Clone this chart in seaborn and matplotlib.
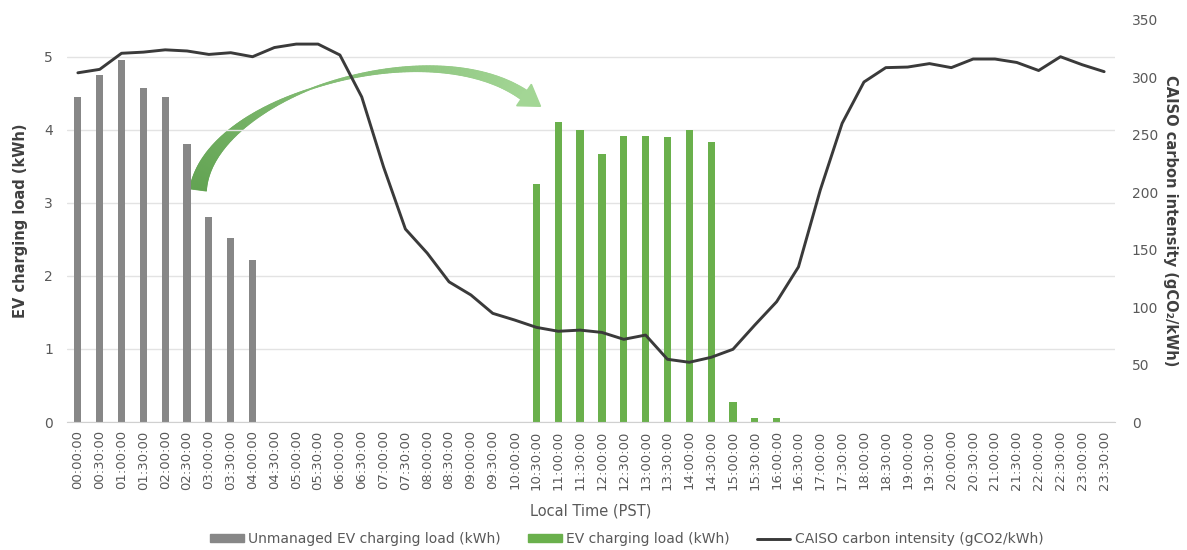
import matplotlib
matplotlib.use("Agg")
import matplotlib.pyplot as plt
import numpy as np
import pandas as pd
import seaborn as sns
from matplotlib.collections import PolyCollection
from matplotlib.patches import Patch, Polygon
from matplotlib.lines import Line2D
from matplotlib.colors import to_rgb

# --- data ---
times = [f"{h:02d}:{m:02d}:00" for h in range(24) for m in (0, 30)]

unmanaged_times = ["00:00:00", "00:30:00", "01:00:00", "01:30:00", "02:00:00",
                   "02:30:00", "03:00:00", "03:30:00", "04:00:00"]
unmanaged_load = [4.44, 4.75, 4.95, 4.57, 4.44, 3.80, 2.80, 2.52, 2.22]

managed_times = ["10:30:00", "11:00:00", "11:30:00", "12:00:00", "12:30:00", "13:00:00",
                 "13:30:00", "14:00:00", "14:30:00", "15:00:00", "15:30:00", "16:00:00"]
managed_load = [3.26, 4.11, 3.99, 3.67, 3.91, 3.91, 3.90, 3.99, 3.83, 0.28, 0.06, 0.06]

carbon = [304, 307, 321, 322, 324, 323, 320, 321.5, 318, 326, 329, 329, 319.5,
          283, 222, 168, 147, 122, 110.6, 94.6, 88.8, 82.4, 79, 80, 78, 72, 75.7,
          54.6, 52, 56.3, 63.3, 84.4, 104.7, 135, 202, 260, 296, 308.5, 309, 312,
          308.5, 316, 316, 313, 306, 318, 311, 305]

GRAY = "#878787"
GREEN = "#6ab04c"
LINE = "#3a3a3a"
TXT = "#595959"
LAB = "#404040"

df = pd.DataFrame({"time": times})
df["unmanaged"] = df["time"].map(dict(zip(unmanaged_times, unmanaged_load))).fillna(0)
df["managed"] = df["time"].map(dict(zip(managed_times, managed_load))).fillna(0)
df["carbon"] = carbon

sns.set_style("white")
plt.rcParams["font.family"] = ["DejaVu Sans"]

fig = plt.figure(figsize=(11.87, 5.5), dpi=100)
ax = fig.add_axes([0.0564, 0.2327, 0.883, 0.731])
ax.patch.set_alpha(0)

sns.barplot(data=df, x="time", y="unmanaged", order=times, color=GRAY,
            width=0.33, linewidth=0, saturation=1, ax=ax)
sns.barplot(data=df, x="time", y="managed", order=times, color=GREEN,
            width=0.33, linewidth=0, saturation=1, ax=ax)

ax.set_ylim(0, 5.5)
ax.set_yticks([0, 1, 2, 3, 4, 5])
ax.set_axisbelow(True)
ax.grid(axis="y", color="#e3e3e3", linewidth=1)
ax.grid(axis="x", visible=False)
for s in ["top", "left", "right"]:
    ax.spines[s].set_visible(False)
ax.spines["bottom"].set_color("#d0d0d0")
ax.tick_params(axis="both", length=0, colors=TXT)
ax.tick_params(axis="y", labelsize=10, pad=10)
ax.tick_params(axis="x", labelsize=9.5, rotation=90, pad=6)
ax.set_ylabel("EV charging load (kWh)", fontsize=10.5, fontweight="bold", color=LAB, labelpad=12)
ax.set_xlabel("Local Time (PST)", fontsize=10.5, color=TXT, labelpad=10)

ax2 = ax.twinx()
ax2.patch.set_alpha(0)
sns.lineplot(x=np.arange(len(times)), y=df["carbon"], color=LINE, linewidth=2.1, ax=ax2)
ax2.set_ylim(0, 350)
ax2.set_yticks(range(0, 351, 50))
ax2.set_xlim(-0.5, len(times) - 0.5)
for s in ["top", "left", "right", "bottom"]:
    ax2.spines[s].set_visible(False)
ax2.tick_params(axis="y", length=0, colors=TXT, labelsize=10, pad=12)
ax2.set_ylabel("CAISO carbon intensity (gCO₂/kWh)", fontsize=10.5, fontweight="bold",
               color=LAB, rotation=270, labelpad=14)

# --- curved "shift" arrow (decorative, drawn in pixel space, behind the line) ---
W, H = 1187, 550
P = np.array([[198, 190], [210, 95], [430, 30], [524, 95]], dtype=float)
t = np.linspace(0, 1, 300)
tc = t[:, None]
pts = ((1 - tc) ** 3) * P[0] + 3 * ((1 - tc) ** 2) * tc * P[1] \
    + 3 * (1 - tc) * tc ** 2 * P[2] + tc ** 3 * P[3]
tang = np.gradient(pts, axis=0)
tang /= np.hypot(tang[:, 0], tang[:, 1])[:, None]
norm = np.column_stack([-tang[:, 1], tang[:, 0]])
width_px = np.where(t < 0.45, 17 - 16 * (t / 0.45), 1 + 10 * ((t - 0.45) / 0.55))
left = pts + norm * (width_px / 2)[:, None]
right = pts - norm * (width_px / 2)[:, None]


def to_fig(a):
    return np.column_stack([a[:, 0] / W, 1 - a[:, 1] / H])


lf, rf = to_fig(left), to_fig(right)
quads = [[lf[i], lf[i + 1], rf[i + 1], rf[i]] for i in range(len(t) - 1)]
c0, c1 = np.array(to_rgb("#62a352")), np.array(to_rgb("#a3d695"))
cols = [tuple(c0 + (c1 - c0) * v) for v in t[:-1]]
body = PolyCollection(quads, facecolors=cols, edgecolors=cols, linewidths=0.6,
                      transform=fig.transFigure, zorder=-1)
fig.add_artist(body)
d = tang[-1]
n = norm[-1]
tip = P[3] + d * 20
head = np.array([tip, P[3] + n * 13, P[3] - n * 13])
fig.add_artist(Polygon(to_fig(head), closed=True, color=tuple(c1),
                       transform=fig.transFigure, zorder=-1))

handles = [Patch(color=GRAY), Patch(color=GREEN), Line2D([0], [0], color=LINE, linewidth=2.1)]
labels = ["Unmanaged EV charging load (kWh)", "EV charging load (kWh)",
          "CAISO carbon intensity (gCO2/kWh)"]
leg = fig.legend(handles, labels, loc="center", bbox_to_anchor=(0.528, 0.02), ncol=3,
                 frameon=False, fontsize=10, columnspacing=2.0, handlelength=2.4,
                 handleheight=0.5, handletextpad=0.3)
for txt in leg.get_texts():
    txt.set_color(TXT)

fig.savefig("out.png", dpi=100, facecolor="white")
plt.close(fig)
